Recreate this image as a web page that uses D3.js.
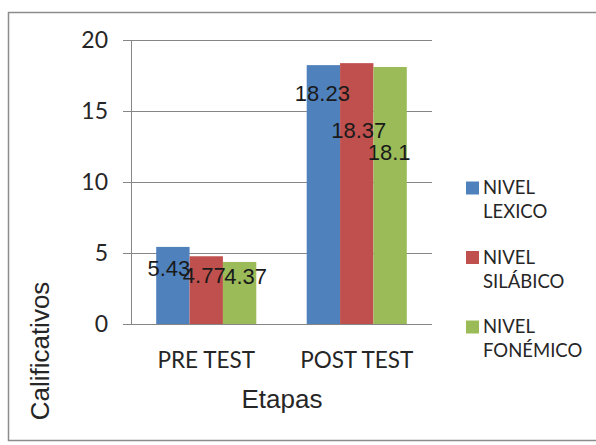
<!DOCTYPE html>
<html lang="es">
<head>
  <meta charset="UTF-8">
  <title>Calificativos por etapa</title>
  <script src="https://d3js.org/d3.v7.min.js"></script>
  <style>
    body { margin: 0; padding: 0; background: #ffffff; }
    svg { display: block; }
  </style>
</head>
<body>
<svg id="chart" width="596" height="445"></svg>
<script>
  // datos
  const etapas = ["PRE TEST", "POST TEST"];
  const niveles = ["NIVEL LEXICO", "NIVEL SILÁBICO", "NIVEL FONÉMICO"];
  const lexico = [5.43, 18.23];
  const silabico = [4.77, 18.37];
  const fonemico = [4.37, 18.1];
  const yTicks = [0, 5, 10, 15, 20];

  const series = [lexico, silabico, fonemico];
  const colores = ["#4F81BD", "#C0504D", "#9BBB59"];
  // las etiquetas estaban movidas a mano en el original: [dx, dy] por barra
  const labelShift = [
    [[-4, 21], [-2, 19], [6, 14]],
    [[-1, 28], [2, 67], [-1, 85]]
  ];

  const svg = d3.select("#chart");

  // marco del grafico
  svg.append("rect")
    .attr("x", 8.5).attr("y", 12.5)
    .attr("width", 600).attr("height", 428)
    .attr("fill", "#fff")
    .attr("stroke", "#8c8c8c")
    .attr("stroke-width", 1.5);

  const pLeft = 131, pRight = 432, pTop = 40, pBottom = 324;

  const x0 = d3.scaleBand().domain(etapas).range([pLeft, pRight]).paddingInner(0.335).paddingOuter(0.1675);
  const x1 = d3.scaleBand().domain(d3.range(3)).range([0, x0.bandwidth()]);
  const y = d3.scaleLinear().domain([0, 20]).range([pBottom, pTop]);

  // rejilla
  svg.append("g")
    .selectAll("line")
    .data(yTicks)
    .join("line")
    .attr("x1", pLeft - 8).attr("x2", pRight)
    .attr("y1", d => Math.round(y(d)) + 0.5)
    .attr("y2", d => Math.round(y(d)) + 0.5)
    .attr("stroke", "#868686")
    .attr("stroke-width", 1);

  svg.append("line")
    .attr("x1", pLeft + 0.5).attr("x2", pLeft + 0.5)
    .attr("y1", pTop).attr("y2", pBottom)
    .attr("stroke", "#868686");

  svg.append("g")
    .selectAll("text")
    .data(yTicks)
    .join("text")
    .attr("x", 108)
    .attr("y", d => y(d))
    .attr("dy", "0.35em")
    .attr("text-anchor", "end")
    .attr("font-family", "Lato, 'Open Sans', sans-serif")
    .attr("font-size", 23)
    .attr("fill", "#262626")
    .text(d => d);

  // barras
  const grupos = svg.append("g")
    .selectAll("g")
    .data(etapas)
    .join("g")
    .attr("transform", d => `translate(${x0(d)},0)`);

  grupos.selectAll("rect")
    .data((d, i) => series.map((s, j) => ({ j, v: s[i] })))
    .join("rect")
    .attr("x", d => x1(d.j))
    .attr("width", x1.bandwidth())
    .attr("y", d => y(d.v))
    .attr("height", d => pBottom - y(d.v))
    .attr("fill", d => colores[d.j]);

  grupos.selectAll("text")
    .data((d, i) => series.map((s, j) => ({ j, v: s[i], off: labelShift[i][j] })))
    .join("text")
    .attr("x", d => x1(d.j) + x1.bandwidth() / 2 + d.off[0])
    .attr("y", d => y(d.v) + d.off[1])
    .attr("dy", "0.35em")
    .attr("text-anchor", "middle")
    .attr("font-family", "'Liberation Sans', Arial, sans-serif")
    .attr("font-size", 22)
    .attr("fill", "#1a1a1a")
    .text(d => d.v);

  // etiquetas de categoria
  svg.append("g")
    .selectAll("text")
    .data(etapas)
    .join("text")
    .attr("x", d => x0(d) + x0.bandwidth() / 2)
    .attr("y", 360)
    .attr("dy", "0.35em")
    .attr("text-anchor", "middle")
    .attr("font-family", "Lato, 'Open Sans', sans-serif")
    .attr("font-size", 22.5)
    .attr("fill", "#262626")
    .text(d => d);

  // titulos de ejes
  svg.append("text")
    .attr("x", 282).attr("y", 399)
    .attr("dy", "0.35em")
    .attr("text-anchor", "middle")
    .attr("font-family", "'Liberation Sans', Arial, sans-serif")
    .attr("font-size", 26)
    .attr("fill", "#262626")
    .text("Etapas");

  svg.append("text")
    .attr("transform", "translate(40,351) rotate(-90)")
    .attr("dy", "0.35em")
    .attr("text-anchor", "middle")
    .attr("font-family", "'Liberation Sans', Arial, sans-serif")
    .attr("font-size", 26)
    .attr("fill", "#262626")
    .text("Calificativos");

  // leyenda
  const leyenda = svg.append("g")
    .selectAll("g")
    .data(niveles)
    .join("g")
    .attr("transform", (d, i) => `translate(466,${188 + i * 69.5})`);

  leyenda.append("rect")
    .attr("x", 0).attr("y", -6.5)
    .attr("width", 13).attr("height", 13)
    .attr("fill", (d, i) => colores[i]);

  leyenda.append("text")
    .attr("font-family", "Lato, 'Open Sans', sans-serif")
    .attr("font-size", 18.5)
    .attr("fill", "#262626")
    .selectAll("tspan")
    .data(d => [d.split(" ")[0], d.split(" ").slice(1).join(" ")])
    .join("tspan")
    .attr("x", 17)
    .attr("y", (d, k) => k * 24)
    .attr("dy", "0.35em")
    .text(d => d);
</script>
</body>
</html>
